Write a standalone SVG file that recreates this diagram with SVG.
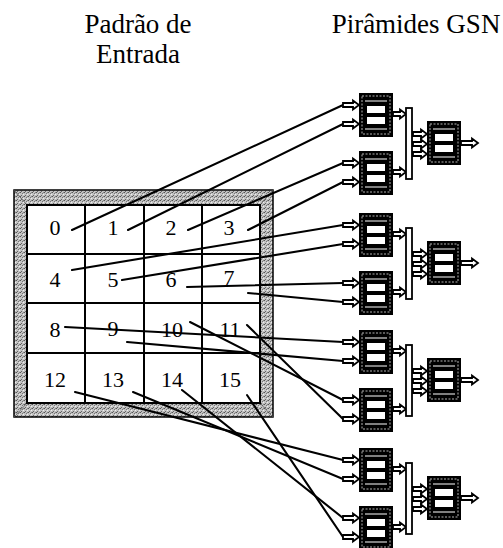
<svg xmlns="http://www.w3.org/2000/svg" xmlns:xlink="http://www.w3.org/1999/xlink" width="503" height="548" viewBox="0 0 503 548">
  <style>
    .title { font-family: 'Liberation Serif', 'DejaVu Serif', serif; font-size: 27px; fill: #000; text-anchor: middle; }
    .num { font-family: 'Liberation Serif', 'DejaVu Serif', serif; font-size: 22px; fill: #000; text-anchor: middle; }
    .cell { fill: #fff; stroke: #000; stroke-width: 2; }
    .arrow { fill: #fff; stroke: #000; stroke-width: 1.8; stroke-linejoin: miter; }
    .bus { fill: #fff; stroke: #000; stroke-width: 1.8; }
    .wire { stroke: #000; stroke-width: 2.1; stroke-linecap: round; fill: none; }
  </style>
  <defs>
    <!-- speckled grey used for the frame band -->
    <pattern id="stipple" width="4" height="4" patternUnits="userSpaceOnUse">
      <rect width="4" height="4" fill="#c2c2c2"/>
      <rect x="0" y="0" width="1" height="1" fill="#555"/>
      <rect x="2" y="1" width="1" height="1" fill="#777"/>
      <rect x="1" y="3" width="1" height="1" fill="#666"/>
      <rect x="3" y="2" width="1" height="1" fill="#eee"/>
      <rect x="3" y="0" width="1" height="1" fill="#888"/>
    </pattern>
    <!-- one GSN neuron block, 34 x 44 -->
    <g id="gsn">
      <rect width="34" height="44" fill="#000"/>
      <rect x="3" y="3" width="28" height="38" fill="none" stroke="#fff" stroke-width="0.7" stroke-dasharray="2 1.5"/>
      <line x1="6" y1="8" x2="28" y2="8" stroke="#fff" stroke-width="1"/>
      <line x1="6" y1="36" x2="28" y2="36" stroke="#fff" stroke-width="1"/>
      <rect x="8" y="13" width="18" height="7" fill="#fff"/>
      <rect x="8" y="24" width="18" height="7" fill="#fff"/>
    </g>
    <!-- hollow arrows of a few lengths, tail at 0, tip at +x -->
    <path id="arr16" class="arrow" d="M0,-2 H10 V-4.5 L16,0 L10,4.5 V2 H0 Z"/>
    <path id="arr13" class="arrow" d="M0,-2 H7 V-4.5 L13,0 L7,4.5 V2 H0 Z"/>
    <path id="arr14" class="arrow" d="M0,-2 H8 V-4.5 L14,0 L8,4.5 V2 H0 Z"/>
    <path id="arr17" class="arrow" d="M0,-2 H11 V-4.5 L17,0 L11,4.5 V2 H0 Z"/>
    <!-- arrows and bus shared by every pyramid (local coordinates) -->
    <g id="pyr-links">
      <use xlink:href="#arr16" x="343" y="12"/>
      <use xlink:href="#arr16" x="343" y="31"/>
      <use xlink:href="#arr16" x="343" y="70"/>
      <use xlink:href="#arr16" x="343" y="89"/>
      <use xlink:href="#arr13" x="393" y="21"/>
      <use xlink:href="#arr13" x="393" y="79"/>
      <rect class="bus" x="406" y="15" width="6" height="71"/>
      <use xlink:href="#arr14" x="413" y="41"/>
      <use xlink:href="#arr14" x="413" y="51"/>
      <use xlink:href="#arr14" x="413" y="61"/>
      <use xlink:href="#arr17" x="461" y="50"/>
    </g>
  </defs>

  <rect width="503" height="548" fill="#fff"/>

  <!-- headings -->
  <g id="headings">
    <text class="title" font-family="Liberation Serif, serif" x="138" y="33">Padrão de</text>
    <text class="title" font-family="Liberation Serif, serif" x="138" y="63">Entrada</text>
    <text class="title" font-family="Liberation Serif, serif" x="416" y="33">Pirâmides GSN</text>
  </g>

  <!-- input pattern frame -->
  <g id="frame">
    <rect x="14" y="190" width="259" height="227" fill="url(#stipple)" stroke="#000" stroke-width="1.5"/>
    <g stroke="#555" stroke-width="0.8">
      <line x1="14" y1="190" x2="27" y2="205"/>
      <line x1="273" y1="190" x2="260" y2="205"/>
      <line x1="273" y1="417" x2="260" y2="403"/>
      <line x1="14" y1="417" x2="27" y2="403"/>
    </g>
  </g>

  <!-- 4 x 4 input cells -->
  <g id="cells">
    <g id="cell-0"><rect class="cell" x="27" y="205" width="58" height="49"/><text class="num" x="55" y="235">0</text></g>
    <g id="cell-1"><rect class="cell" x="85" y="205" width="59" height="49"/><text class="num" x="113" y="235">1</text></g>
    <g id="cell-2"><rect class="cell" x="144" y="205" width="58" height="49"/><text class="num" x="171" y="235">2</text></g>
    <g id="cell-3"><rect class="cell" x="202" y="205" width="58" height="49"/><text class="num" x="229" y="235">3</text></g>
    <g id="cell-4"><rect class="cell" x="27" y="254" width="58" height="49"/><text class="num" x="55" y="287">4</text></g>
    <g id="cell-5"><rect class="cell" x="85" y="254" width="59" height="49"/><text class="num" x="113" y="287">5</text></g>
    <g id="cell-6"><rect class="cell" x="144" y="254" width="58" height="49"/><text class="num" x="171" y="287">6</text></g>
    <g id="cell-7"><rect class="cell" x="202" y="254" width="58" height="49"/><text class="num" x="229" y="285">7</text></g>
    <g id="cell-8"><rect class="cell" x="27" y="303" width="58" height="50"/><text class="num" x="55" y="337">8</text></g>
    <g id="cell-9"><rect class="cell" x="85" y="303" width="59" height="50"/><text class="num" x="113" y="336">9</text></g>
    <g id="cell-10"><rect class="cell" x="144" y="303" width="58" height="50"/><text class="num" x="172" y="337">10</text></g>
    <g id="cell-11"><rect class="cell" x="202" y="303" width="58" height="50"/><text class="num" x="230" y="337">11</text></g>
    <g id="cell-12"><rect class="cell" x="27" y="353" width="58" height="50"/><text class="num" x="55" y="387">12</text></g>
    <g id="cell-13"><rect class="cell" x="85" y="353" width="59" height="50"/><text class="num" x="113" y="387">13</text></g>
    <g id="cell-14"><rect class="cell" x="144" y="353" width="58" height="50"/><text class="num" x="172" y="387">14</text></g>
    <g id="cell-15"><rect class="cell" x="202" y="353" width="58" height="50"/><text class="num" x="230" y="387">15</text></g>
  </g>

  <!-- cell to GSN input wiring -->
  <g id="connectors" class="wire">
    <line x1="72" y1="230" x2="343" y2="105"/>
    <line x1="128" y1="230" x2="343" y2="124"/>
    <line x1="188" y1="230" x2="343" y2="163"/>
    <line x1="248" y1="230" x2="343" y2="182"/>
    <line x1="72" y1="270" x2="343" y2="225"/>
    <line x1="122" y1="280" x2="343" y2="244"/>
    <line x1="187" y1="287" x2="343" y2="283"/>
    <line x1="248" y1="293" x2="343" y2="302"/>
    <line x1="65" y1="327" x2="343" y2="342"/>
    <line x1="127" y1="342" x2="343" y2="361"/>
    <line x1="190" y1="322" x2="343" y2="400"/>
    <line x1="247" y1="325" x2="343" y2="419"/>
    <line x1="75" y1="392" x2="343" y2="460"/>
    <line x1="133" y1="392" x2="343" y2="479"/>
    <line x1="182" y1="390" x2="343" y2="518"/>
    <line x1="247" y1="395" x2="343" y2="537"/>
  </g>

  <!-- GSN pyramids -->
  <g id="pyramid-1" transform="translate(0,93)">
    <use xlink:href="#pyr-links"/>
    <g id="gsn-1a"><use xlink:href="#gsn" x="359" y="0"/></g>
    <g id="gsn-1b"><use xlink:href="#gsn" x="359" y="58"/></g>
    <g id="gsn-1c"><use xlink:href="#gsn" x="427" y="28"/></g>
  </g>
  <g id="pyramid-2" transform="translate(0,213)">
    <use xlink:href="#pyr-links"/>
    <g id="gsn-2a"><use xlink:href="#gsn" x="359" y="0"/></g>
    <g id="gsn-2b"><use xlink:href="#gsn" x="359" y="58"/></g>
    <g id="gsn-2c"><use xlink:href="#gsn" x="427" y="28"/></g>
  </g>
  <g id="pyramid-3" transform="translate(0,330)">
    <use xlink:href="#pyr-links"/>
    <g id="gsn-3a"><use xlink:href="#gsn" x="359" y="0"/></g>
    <g id="gsn-3b"><use xlink:href="#gsn" x="359" y="58"/></g>
    <g id="gsn-3c"><use xlink:href="#gsn" x="427" y="28"/></g>
  </g>
  <g id="pyramid-4" transform="translate(0,448)">
    <use xlink:href="#pyr-links"/>
    <g id="gsn-4a"><use xlink:href="#gsn" x="359" y="0"/></g>
    <g id="gsn-4b"><use xlink:href="#gsn" x="359" y="58"/></g>
    <g id="gsn-4c"><use xlink:href="#gsn" x="427" y="28"/></g>
  </g>
</svg>
